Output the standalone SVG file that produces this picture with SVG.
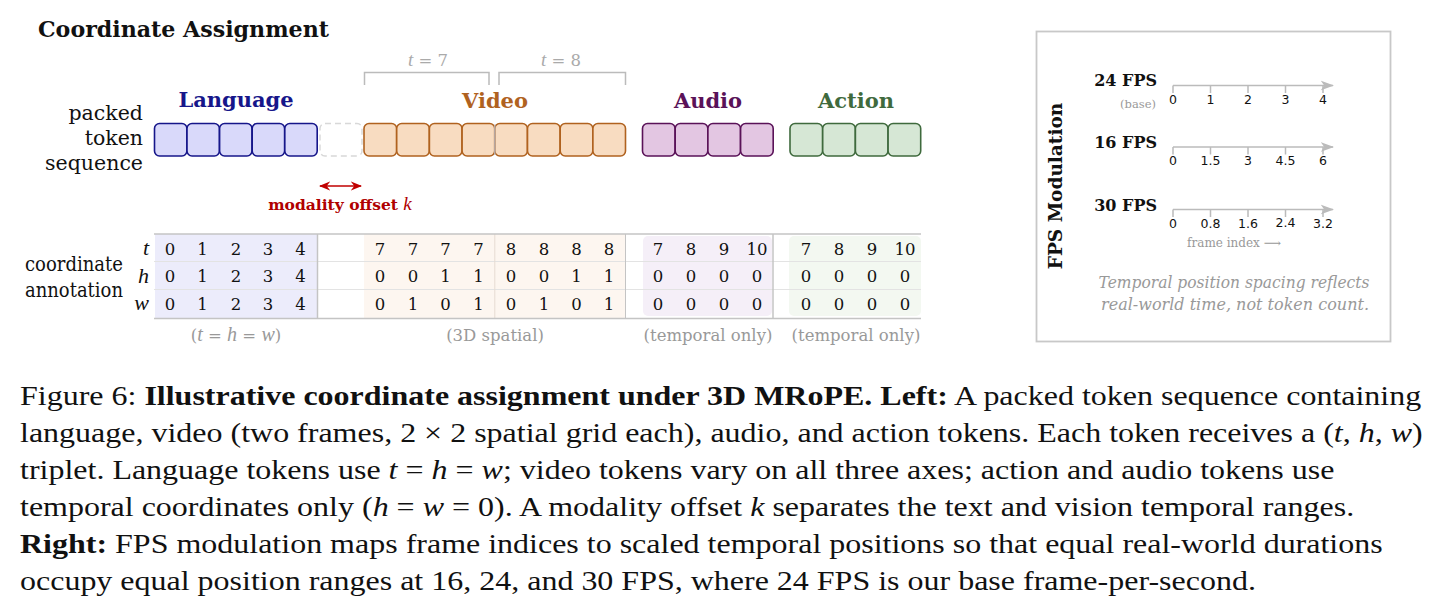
<svg xmlns="http://www.w3.org/2000/svg" width="1446" height="616" viewBox="0 0 1446 616">
<style>
text{font-family:"DejaVu Serif","Liberation Serif",serif;}
.num{font-size:16.5px;fill:#111;text-anchor:middle;}
.lab{font-size:20.5px;fill:#111;}
.mi{font-family:"Liberation Serif",serif;font-style:italic;}
.gray{fill:#999;font-size:16.5px;text-anchor:middle;}
.tl{font-family:"DejaVu Sans","Liberation Sans",sans-serif;font-size:12.5px;fill:#111;text-anchor:middle;}
.fps{font-size:16px;font-weight:bold;fill:#111;text-anchor:end;}
.ax{stroke:#bbb;stroke-width:1.5;fill:none;}
.lang{fill:#d9d9fa;stroke:#16168a;stroke-width:1.6;}
.vid{fill:#f8dcc1;stroke:#b0621f;stroke-width:1.6;}
.aud{fill:#e3c6e2;stroke:#5a1258;stroke-width:1.6;}
.act{fill:#d6e7d5;stroke:#3f6a3d;stroke-width:1.6;}
.cap{font-family:"Liberation Serif",serif;font-size:27px;fill:#111;}
</style>
<defs>
<marker id="ra" viewBox="0 0 10 10" refX="9" refY="5" markerWidth="7" markerHeight="7" orient="auto-start-reverse"><path d="M0,1 L10,5 L0,9 L3,5 Z" fill="#c00000"/></marker>
<marker id="ga" viewBox="0 0 10 10" refX="9" refY="5" markerWidth="9" markerHeight="9" orient="auto"><path d="M0,1.5 L10,5 L0,8.5 L2.5,5 Z" fill="#bbb"/></marker>
</defs>

<text x="38" y="37" font-size="23" font-weight="bold" fill="#111" textLength="291" lengthAdjust="spacingAndGlyphs">Coordinate Assignment</text>

<g id="seq-label">
<text class="lab" x="143" y="120" text-anchor="end">packed</text>
<text class="lab" x="143" y="145" text-anchor="end">token</text>
<text class="lab" x="143" y="170" text-anchor="end">sequence</text>
</g>

<g id="language">
<text x="236" y="107" font-size="21" font-weight="bold" fill="#16168a" text-anchor="middle">Language</text>
<rect class="lang" x="154.5" y="123.5" width="32.4" height="32.5" rx="5"/>
<rect class="lang" x="187" y="123.5" width="32.4" height="32.5" rx="5"/>
<rect class="lang" x="219.6" y="123.5" width="32.4" height="32.5" rx="5"/>
<rect class="lang" x="252.2" y="123.5" width="32.4" height="32.5" rx="5"/>
<rect class="lang" x="284.8" y="123.5" width="32.4" height="32.5" rx="5"/>
</g>

<g id="offset-slot">
<rect x="320" y="123.5" width="42" height="32.5" rx="5" fill="none" stroke="#d8d8d8" stroke-width="1.4" stroke-dasharray="6 4"/>
</g>

<g id="video">
<text x="495" y="108" font-size="21" font-weight="bold" fill="#b0621f" text-anchor="middle">Video</text>
<rect class="vid" x="364" y="123.5" width="32.6" height="32.5" rx="5"/>
<rect class="vid" x="396.7" y="123.5" width="32.6" height="32.5" rx="5"/>
<rect class="vid" x="429.4" y="123.5" width="32.6" height="32.5" rx="5"/>
<rect class="vid" x="462.1" y="123.5" width="32.6" height="32.5" rx="5"/>
<rect class="vid" x="494.8" y="123.5" width="32.6" height="32.5" rx="5"/>
<rect class="vid" x="527.5" y="123.5" width="32.6" height="32.5" rx="5"/>
<rect class="vid" x="560.2" y="123.5" width="32.6" height="32.5" rx="5"/>
<rect class="vid" x="592.9" y="123.5" width="32.6" height="32.5" rx="5"/>
<line x1="494.8" y1="124.5" x2="494.8" y2="155" stroke="#b8b8c0" stroke-width="1.2"/>
</g>

<g id="frame-brackets" fill="#aaa" font-size="16.5">
<path class="ax" d="M364.5 85 V72.5 H489 V85"/>
<path class="ax" d="M499 85 V72.5 H625.5 V85"/>
<text x="428" y="66" text-anchor="middle"><tspan class="mi" font-size="19">t</tspan> = 7</text>
<text x="561" y="66" text-anchor="middle"><tspan class="mi" font-size="19">t</tspan> = 8</text>
</g>

<g id="audio">
<text x="708" y="108" font-size="21" font-weight="bold" fill="#5a1258" text-anchor="middle">Audio</text>
<rect class="aud" x="642.5" y="123.5" width="32.6" height="32.5" rx="5"/>
<rect class="aud" x="675.2" y="123.5" width="32.6" height="32.5" rx="5"/>
<rect class="aud" x="707.9" y="123.5" width="32.6" height="32.5" rx="5"/>
<rect class="aud" x="740.6" y="123.5" width="32.6" height="32.5" rx="5"/>
</g>

<g id="action">
<text x="856" y="108" font-size="21" font-weight="bold" fill="#3f6a3d" text-anchor="middle">Action</text>
<rect class="act" x="790" y="123.5" width="32.6" height="32.5" rx="5"/>
<rect class="act" x="822.7" y="123.5" width="32.6" height="32.5" rx="5"/>
<rect class="act" x="855.4" y="123.5" width="32.6" height="32.5" rx="5"/>
<rect class="act" x="888.1" y="123.5" width="32.6" height="32.5" rx="5"/>
</g>

<g id="connectors">
<line x1="320" y1="186" x2="361" y2="186" stroke="#c00000" stroke-width="1.6" marker-start="url(#ra)" marker-end="url(#ra)"/>
</g>
<g id="offset-label">
<text x="340" y="210" font-size="15.5" font-weight="bold" fill="#b00000" text-anchor="middle">modality offset <tspan class="mi" font-weight="normal" font-size="19">k</tspan></text>
</g>

<g id="table">
<rect x="155" y="234" width="162" height="84" fill="#ececfb"/>
<rect x="364" y="234" width="261" height="84" fill="#fdf6f0"/>
<rect x="643" y="236" width="129" height="80" rx="5" fill="#f5eff8"/>
<rect x="789" y="236" width="132" height="80" rx="5" fill="#f3f8f1"/>
<line x1="154" y1="261.5" x2="921" y2="261.5" stroke="#e3e3e3" stroke-width="1.2"/>
<line x1="154" y1="289.5" x2="921" y2="289.5" stroke="#e3e3e3" stroke-width="1.2"/>
<line x1="494.8" y1="234" x2="494.8" y2="318" stroke="#e6dcd2" stroke-width="1"/>
<line x1="154" y1="234" x2="921" y2="234" stroke="#c4c4c4" stroke-width="1.5"/>
<line x1="154" y1="318.5" x2="921" y2="318.5" stroke="#c4c4c4" stroke-width="1.5"/>
<line x1="317.5" y1="234" x2="317.5" y2="318.5" stroke="#c4c4c4" stroke-width="1.5"/>
<line x1="625.5" y1="234" x2="625.5" y2="318.5" stroke="#c4c4c4" stroke-width="1"/>
<line x1="773" y1="234" x2="773" y2="318.5" stroke="#c4c4c4" stroke-width="1.5"/>

<text class="mi" x="149" y="255" font-size="22" text-anchor="end" fill="#111">t</text>
<text class="mi" x="149" y="283" font-size="22" text-anchor="end" fill="#111">h</text>
<text class="mi" x="149" y="310" font-size="22" text-anchor="end" fill="#111">w</text>
<text class="lab" x="123" y="271" text-anchor="end" textLength="98" lengthAdjust="spacingAndGlyphs">coordinate</text>
<text class="lab" x="123" y="297" text-anchor="end" textLength="98" lengthAdjust="spacingAndGlyphs">annotation</text>

<g class="num">
<text x="170" y="255">0</text><text x="202.5" y="255">1</text><text x="236" y="255">2</text><text x="268" y="255">3</text><text x="300.5" y="255">4</text>
<text x="170" y="282">0</text><text x="202.5" y="282">1</text><text x="236" y="282">2</text><text x="268" y="282">3</text><text x="300.5" y="282">4</text>
<text x="170" y="310">0</text><text x="202.5" y="310">1</text><text x="236" y="310">2</text><text x="268" y="310">3</text><text x="300.5" y="310">4</text>

<text x="380" y="255">7</text><text x="413" y="255">7</text><text x="445.5" y="255">7</text><text x="478.5" y="255">7</text><text x="511" y="255">8</text><text x="544" y="255">8</text><text x="576.5" y="255">8</text><text x="609" y="255">8</text>
<text x="380" y="282">0</text><text x="413" y="282">0</text><text x="445.5" y="282">1</text><text x="478.5" y="282">1</text><text x="511" y="282">0</text><text x="544" y="282">0</text><text x="576.5" y="282">1</text><text x="609" y="282">1</text>
<text x="380" y="310">0</text><text x="413" y="310">1</text><text x="445.5" y="310">0</text><text x="478.5" y="310">1</text><text x="511" y="310">0</text><text x="544" y="310">1</text><text x="576.5" y="310">0</text><text x="609" y="310">1</text>

<text x="658" y="255">7</text><text x="691" y="255">8</text><text x="724" y="255">9</text><text x="757" y="255">10</text>
<text x="658" y="282">0</text><text x="691" y="282">0</text><text x="724" y="282">0</text><text x="757" y="282">0</text>
<text x="658" y="310">0</text><text x="691" y="310">0</text><text x="724" y="310">0</text><text x="757" y="310">0</text>

<text x="806" y="255">7</text><text x="839" y="255">8</text><text x="872" y="255">9</text><text x="905" y="255">10</text>
<text x="806" y="282">0</text><text x="839" y="282">0</text><text x="872" y="282">0</text><text x="905" y="282">0</text>
<text x="806" y="310">0</text><text x="839" y="310">0</text><text x="872" y="310">0</text><text x="905" y="310">0</text>
</g>

<text class="gray" x="236" y="341">(<tspan class="mi" font-size="20">t</tspan> = <tspan class="mi" font-size="20">h</tspan> = <tspan class="mi" font-size="20">w</tspan>)</text>
<text class="gray" x="495" y="341">(3D spatial)</text>
<text class="gray" x="708" y="341">(temporal only)</text>
<text class="gray" x="856" y="341">(temporal only)</text>
</g>

<g id="fps-panel">
<rect x="1036.5" y="31.5" width="354" height="310" fill="#fff" stroke="#c8c8c8" stroke-width="1.8"/>
<text x="0" y="0" font-size="18.5" font-weight="bold" fill="#111" text-anchor="middle" transform="translate(1062 186) rotate(-90)">FPS Modulation</text>

<g id="fps24">
<text class="fps" x="1157" y="86">24 FPS</text>
<text x="1156" y="108" font-size="11.5" fill="#999" text-anchor="end">(base)</text>
<path class="ax" d="M1173 85.5 H1333" marker-end="url(#ga)"/>
<path class="ax" d="M1173 85.5 V93 M1210.5 85.5 V93 M1248 85.5 V93 M1285.5 85.5 V93 M1323 85.5 V93"/>
<text class="tl" x="1173" y="104">0</text><text class="tl" x="1210.5" y="104">1</text><text class="tl" x="1248" y="104">2</text><text class="tl" x="1285.5" y="104">3</text><text class="tl" x="1323" y="104">4</text>
</g>
<g id="fps16">
<text class="fps" x="1157" y="148">16 FPS</text>
<path class="ax" d="M1173 147 H1333" marker-end="url(#ga)"/>
<path class="ax" d="M1173 147 V154.5 M1210.5 147 V154.5 M1248 147 V154.5 M1285.5 147 V154.5 M1323 147 V154.5"/>
<text class="tl" x="1173" y="165">0</text><text class="tl" x="1210.5" y="165">1.5</text><text class="tl" x="1248" y="165">3</text><text class="tl" x="1285.5" y="165">4.5</text><text class="tl" x="1323" y="165">6</text>
</g>
<g id="fps30">
<text class="fps" x="1157" y="211">30 FPS</text>
<path class="ax" d="M1173 209.5 H1333" marker-end="url(#ga)"/>
<path class="ax" d="M1173 209.5 V217 M1210.5 209.5 V217 M1248 209.5 V217 M1285.5 209.5 V217 M1323 209.5 V217"/>
<text class="tl" x="1173" y="228">0</text><text class="tl" x="1210.5" y="228">0.8</text><text class="tl" x="1248" y="228">1.6</text><text class="tl" x="1285.5" y="227">2.4</text><text class="tl" x="1323" y="228">3.2</text>
<text x="1234" y="247" font-size="12" fill="#999" text-anchor="middle">frame index ⟶</text>
</g>
<text x="1234" y="288" font-size="16.5" font-style="italic" fill="#999" text-anchor="middle" textLength="271" lengthAdjust="spacingAndGlyphs">Temporal position spacing reflects</text>
<text x="1235" y="310" font-size="16.5" font-style="italic" fill="#999" text-anchor="middle" textLength="268" lengthAdjust="spacingAndGlyphs">real-world time, not token count.</text>
</g>

<g id="caption" transform="translate(20 0) scale(1.185 1)">
<text class="cap" x="0" y="405">Figure 6: <tspan font-weight="bold">Illustrative coordinate assignment under 3D MRoPE. Left:</tspan> A packed token sequence containing</text>
<text class="cap" x="0" y="442">language, video (two frames, 2 × 2 spatial grid each), audio, and action tokens. Each token receives a (<tspan font-style="italic">t</tspan>, <tspan font-style="italic">h</tspan>, <tspan font-style="italic">w</tspan>)</text>
<text class="cap" x="0" y="479">triplet. Language tokens use <tspan font-style="italic">t</tspan> = <tspan font-style="italic">h</tspan> = <tspan font-style="italic">w</tspan>; video tokens vary on all three axes; action and audio tokens use</text>
<text class="cap" x="0" y="516">temporal coordinates only (<tspan font-style="italic">h</tspan> = <tspan font-style="italic">w</tspan> = 0). A modality offset <tspan font-style="italic">k</tspan> separates the text and vision temporal ranges.</text>
<text class="cap" x="0" y="553"><tspan font-weight="bold">Right:</tspan> FPS modulation maps frame indices to scaled temporal positions so that equal real-world durations</text>
<text class="cap" x="0" y="590">occupy equal position ranges at 16, 24, and 30 FPS, where 24 FPS is our base frame-per-second.</text>
</g>
</svg>
